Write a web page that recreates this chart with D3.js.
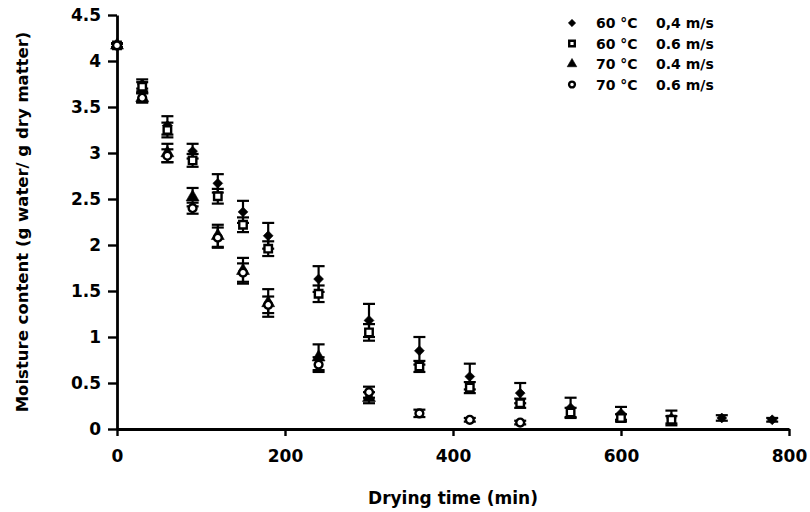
<!DOCTYPE html>
<html>
<head>
<meta charset="utf-8">
<script src="https://cdn.jsdelivr.net/npm/d3@7"></script>
<style>
  html, body { margin: 0; padding: 0; background: #fff; }
  svg text { font-family: "DejaVu Sans", "Liberation Sans", Arial, sans-serif; font-weight: bold; fill: #000; }
</style>
</head>
<body>
<svg id="chart" width="810" height="512"></svg>
<script>
// drying times (min)
const times = [0, 30, 60, 90, 120, 150, 180, 240, 300, 360, 420, 480, 540, 600, 660, 720, 780];

// moisture content (g water / g dry matter) and standard deviation per series
const mc60_04 = [4.17, 3.75, 3.30, 3.02, 2.67, 2.36, 2.10, 1.63, 1.18, 0.85, 0.57, 0.39, 0.23, 0.17, 0.12, 0.12, 0.10];
const sd60_04 = [0.02, 0.05, 0.10, 0.08, 0.10, 0.12, 0.14, 0.14, 0.18, 0.15, 0.14, 0.11, 0.11, 0.07, 0.08, 0.03, 0.02];
const mc60_06 = [4.17, 3.72, 3.25, 2.92, 2.53, 2.22, 1.96, 1.47, 1.05, 0.68, 0.45, 0.28, 0.18, 0.12, 0.10];
const sd60_06 = [0.02, 0.05, 0.08, 0.07, 0.08, 0.08, 0.08, 0.09, 0.09, 0.06, 0.06, 0.05, 0.05, 0.04, 0.04];
const mc70_04 = [4.17, 3.60, 3.00, 2.52, 2.10, 1.72, 1.37, 0.78, 0.34];
const sd70_04 = [0.02, 0.05, 0.10, 0.10, 0.12, 0.14, 0.15, 0.14, 0.06];
const mc70_06 = [4.17, 3.60, 2.97, 2.40, 2.08, 1.70, 1.35, 0.70, 0.40, 0.17, 0.10, 0.07];
const sd70_06 = [0.02, 0.05, 0.07, 0.06, 0.11, 0.10, 0.09, 0.08, 0.06, 0.04, 0.02, 0.02];

const seriesNames = ["60 °C", "60 °C", "70 °C", "70 °C"];
const speedNames = ["0,4 m/s", "0.6 m/s", "0.4 m/s", "0.6 m/s"];
const markerKinds = ["diamond", "square", "triangle", "circle"];

const xTicks = [0, 200, 400, 600, 800];
const yTicks = [0, 0.5, 1, 1.5, 2, 2.5, 3, 3.5, 4, 4.5];

const series = [
  { name: seriesNames[0], speed: speedNames[0], kind: markerKinds[0], mc: mc60_04, sd: sd60_04 },
  { name: seriesNames[2], speed: speedNames[2], kind: markerKinds[2], mc: mc70_04, sd: sd70_04 },
  { name: seriesNames[1], speed: speedNames[1], kind: markerKinds[1], mc: mc60_06, sd: sd60_06 },
  { name: seriesNames[3], speed: speedNames[3], kind: markerKinds[3], mc: mc70_06, sd: sd70_06 }
];

const svg = d3.select("#chart");

const x = d3.scaleLinear().domain([0, 800]).range([117, 789]);
const y = d3.scaleLinear().domain([0, 4.5]).range([429, 15]);

// axes
const xAxis = svg.append("g")
  .attr("transform", `translate(0,${y(0)})`)
  .call(d3.axisBottom(x).tickValues(xTicks).tickSize(7).tickPadding(14).tickSizeOuter(0));
const yAxis = svg.append("g")
  .attr("transform", `translate(${x(0)},0)`)
  .call(d3.axisLeft(y).tickValues(yTicks).tickSize(9).tickPadding(7).tickFormat(d3.format("")).tickSizeOuter(0));

[xAxis, yAxis].forEach(g => {
  g.select(".domain").attr("stroke", "#000").attr("stroke-width", 2.8);
  g.selectAll(".tick line").attr("stroke", "#000").attr("stroke-width", 2.4);
  g.selectAll(".tick text").style("font-size", "17px").attr("fill", "#000");
});

// axis titles
svg.append("text")
  .attr("x", 453).attr("y", 504)
  .attr("text-anchor", "middle")
  .style("font-size", "17px")
  .text("Drying time (min)");

svg.append("text")
  .attr("transform", `translate(28,${y(2.25)}) rotate(-90)`)
  .attr("text-anchor", "middle")
  .style("font-size", "16.5px")
  .text("Moisture content (g water/ g dry matter)");

const symbolFor = {
  diamond: d3.symbol().type(d3.symbolDiamond2),
  square: d3.symbol().type(d3.symbolSquare),
  triangle: d3.symbol().type(d3.symbolTriangle),
  circle: d3.symbol().type(d3.symbolCircle)
};
const sizeFor = { diamond: 62, square: 56, triangle: 72, circle: 48 };
const filled = k => k === "diamond" || k === "triangle";

function drawMarker(g, kind, size) {
  g.append("path")
    .attr("d", symbolFor[kind].size(size)())
    .attr("fill", filled(kind) ? "#000" : "#fff")
    .attr("stroke", "#000")
    .attr("stroke-width", filled(kind) ? 0.6 : 2.4);
}

// error bars
const capW = 6;
series.forEach(s => {
  const pts = s.mc.map((v, i) => ({ t: times[i], v, sd: s.sd[i] }));
  const eb = svg.append("g").selectAll("g").data(pts).enter().append("g")
    .attr("stroke", "#000").attr("stroke-width", 2.2);
  eb.append("line")
    .attr("x1", d => x(d.t)).attr("x2", d => x(d.t))
    .attr("y1", d => y(d.v + d.sd)).attr("y2", d => y(d.v - d.sd));
  eb.append("line")
    .attr("x1", d => x(d.t) - capW).attr("x2", d => x(d.t) + capW)
    .attr("y1", d => y(d.v + d.sd)).attr("y2", d => y(d.v + d.sd));
  eb.append("line")
    .attr("x1", d => x(d.t) - capW).attr("x2", d => x(d.t) + capW)
    .attr("y1", d => y(d.v - d.sd)).attr("y2", d => y(d.v - d.sd));
});

// markers
series.forEach(s => {
  s.mc.forEach((v, i) => {
    const g = svg.append("g").attr("transform", `translate(${x(times[i])},${y(v)})`);
    drawMarker(g, s.kind, sizeFor[s.kind]);
  });
});

// legend
const legendOrder = [0, 2, 1, 3];
legendOrder.forEach((si, row) => {
  const s = series[si];
  const ly = 23 + row * 20.5;
  const g = svg.append("g").attr("transform", `translate(572,${ly})`);
  drawMarker(g, s.kind, sizeFor[s.kind] * 0.55);
  svg.append("text").attr("x", 596).attr("y", ly + 5).style("font-size", "14px").text(s.name);
  svg.append("text").attr("x", 656).attr("y", ly + 5).style("font-size", "14px").text(s.speed);
});
</script>
</body>
</html>
